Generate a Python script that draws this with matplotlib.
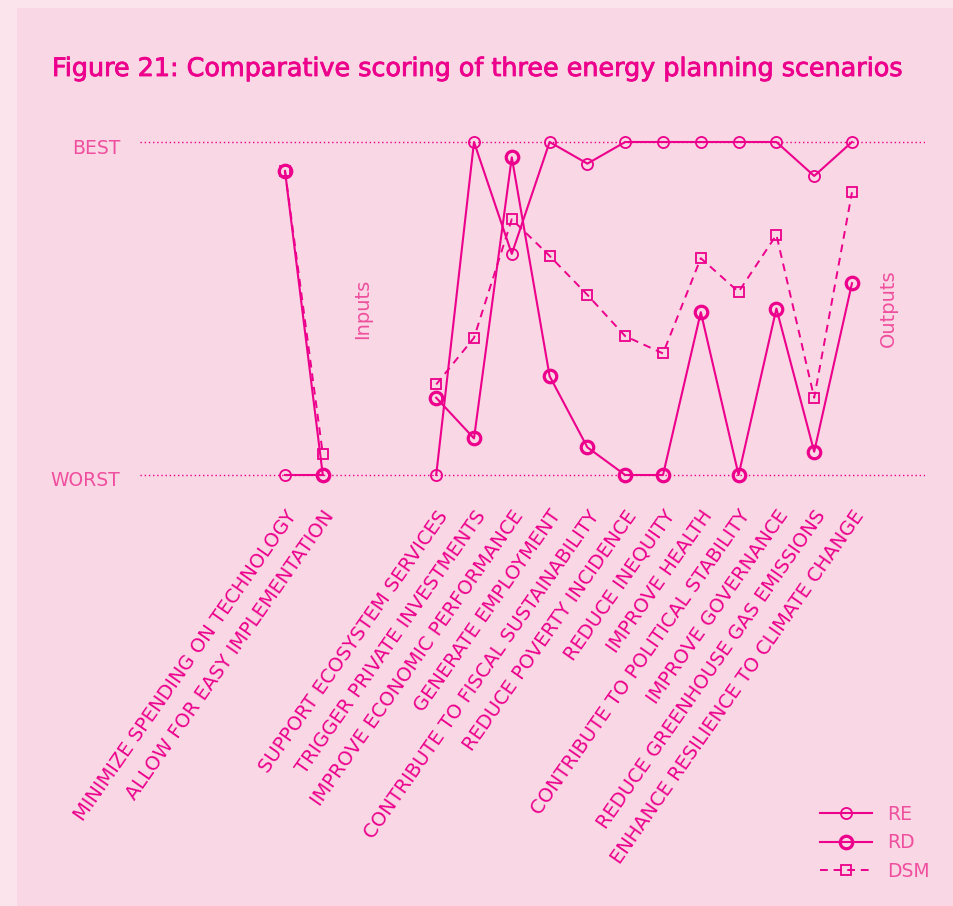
import matplotlib
matplotlib.use('Agg')
import matplotlib.pyplot as plt
from matplotlib.patches import Rectangle
import matplotlib.transforms as mtransforms
import matplotlib.patheffects as pe
import numpy as np

# categories (two blank slots separate the inputs from the outputs)
categories = ['MINIMIZE SPENDING ON TECHNOLOGY', 'ALLOW FOR EASY IMPLEMENTATION', '', '',
              'SUPPORT ECOSYSTEM SERVICES', 'TRIGGER PRIVATE INVESTMENTS',
              'IMPROVE ECONOMIC PERFORMANCE', 'GENERATE EMPLOYMENT',
              'CONTRIBUTE TO FISCAL SUSTAINABILITY', 'REDUCE POVERTY INCIDENCE',
              'REDUCE INEQUITY', 'IMPROVE HEALTH', 'CONTRIBUTE TO POLITICAL STABILITY',
              'IMPROVE GOVERNANCE', 'REDUCE GREENHOUSE GAS EMISSIONS',
              'ENHANCE RESILIENCE TO CLIMATE CHANGE']

# scores: 0 = worst, 1 = best (nan = no value)
re_scores = [0.0, 0.0, np.nan, np.nan, 0.0, 1.0, 0.664, 1.0, 0.935, 1.0, 1.0, 1.0, 1.0, 1.0, 0.898, 1.0]
rd_scores = [0.913, 0.0, np.nan, np.nan, 0.232, 0.110, 0.954, 0.297, 0.083, 0.0, 0.0, 0.489, 0.0, 0.500, 0.070, 0.576]
dsm_scores = [0.913, 0.063, np.nan, np.nan, 0.272, 0.412, 0.768, 0.658, 0.541, 0.417, 0.365, 0.651, 0.550, 0.721, 0.232, 0.849]

ytick_vals = [0, 1]
ytick_labels = ['WORST', 'BEST']

pink = '#ec008c'
light_pink = '#ef4f9e'
outer_bg = '#fce4ec'
inner_bg = '#f9d7e4'

W, H = 954, 906
fig = plt.figure(figsize=(W / 100, H / 100), dpi=100, facecolor=outer_bg)
fig.patches.append(Rectangle((17 / W, 0), 1 - 17 / W, 1 - 8 / H, transform=fig.transFigure,
                             facecolor=inner_bg, edgecolor='none', zorder=-10))

# axes placed so that worst -> y=475px, best -> y=142px
y0, y1 = -0.05, 1.05
px_best, px_worst = 142, 475
unit = (px_worst - px_best)
top_px = px_best - (y1 - 1) * unit
bot_px = px_worst + (0 - y0) * unit
left_px, right_px = 140, 925
ax = fig.add_axes([left_px / W, 1 - bot_px / H, (right_px - left_px) / W, (bot_px - top_px) / H])
ax.set_facecolor('none')

x = np.arange(len(categories))
step = 37.8
x_first = 285
ax.set_xlim((left_px - x_first) / step, (right_px - x_first) / step)
ax.set_ylim(y0, y1)

for yv in ytick_vals:
    ax.axhline(yv, color=pink, lw=1.0, ls=(0, (1, 2)), zorder=1)

ax.plot(x, re_scores, color=pink, lw=1.5, marker='o', ms=8, mfc='none', mec=pink, mew=1.3, label='RE', zorder=3)
ax.plot(x, rd_scores, color=pink, lw=1.5, marker='o', ms=9, mfc='none', mec=pink, mew=2.3, label='RD', zorder=3)
ax.plot(x, dsm_scores, color=pink, lw=1.4, ls=(0, (4, 3)), marker='s', ms=7, mfc='none', mec=pink, mew=1.3,
        label='DSM', zorder=3)

ax.set_xticks(x)
ax.set_xticklabels(categories, rotation=55, ha='right', va='top', rotation_mode='anchor',
                   fontsize=14, color=pink)
ax.set_yticks(ytick_vals)
ax.set_yticklabels(ytick_labels, fontsize=13.5, color=light_pink)
ax.tick_params(axis='x', length=0, pad=11)
ax.tick_params(axis='y', length=0, pad=14)
shift = mtransforms.ScaledTranslation(0, -4 / 100, fig.dpi_scale_trans)
for lbl in ax.get_yticklabels():
    lbl.set_transform(lbl.get_transform() + shift)
for sp in ax.spines.values():
    sp.set_visible(False)

ax.text(2.05, 0.5, 'Inputs', rotation=90, ha='center', va='center', fontsize=14, color=light_pink)
ax.text(15.95, 0.5, 'Outputs', rotation=90, ha='center', va='center', fontsize=14, color=light_pink)

fig.text(52 / W, 1 - 76 / H, 'Figure 21: Comparative scoring of three energy planning scenarios',
         fontsize=18.3, color=pink, ha='left', va='baseline',
         path_effects=[pe.withStroke(linewidth=0.6, foreground=pink)])

fig.legend(loc='upper left', bbox_to_anchor=(803 / W, 1 - 788 / H), frameon=False,
           fontsize=13.5, handlelength=2.8, labelspacing=0.5, handletextpad=0.8,
           labelcolor=light_pink)

fig.savefig('out.png', dpi=100, facecolor=fig.get_facecolor())
